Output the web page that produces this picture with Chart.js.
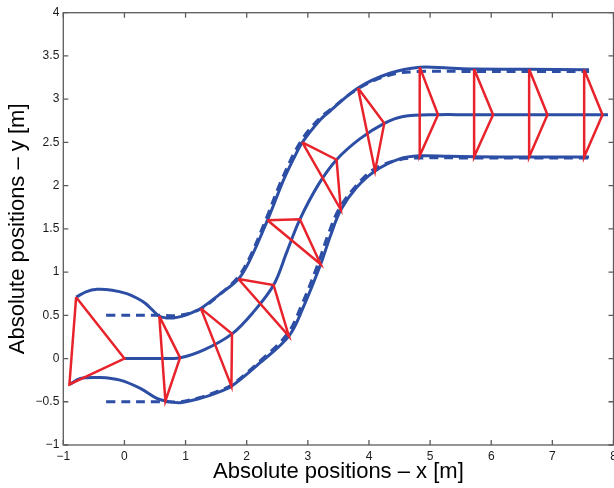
<!DOCTYPE html>
<html>
<head>
<meta charset="utf-8">
<script src="https://cdn.jsdelivr.net/npm/chart.js@4/dist/chart.umd.min.js"></script>
<style>
  html, body { margin: 0; padding: 0; background: #ffffff; }
  canvas { display: block; }
</style>
</head>
<body>
<canvas id="formation" width="614" height="488"></canvas>
<script>
// Axis ticks
const xTickValues = [-1, 0, 1, 2, 3, 4, 5, 6, 7, 8];
const yTickValues = [-1, -0.5, 0, 0.5, 1, 1.5, 2, 2.5, 3, 3.5, 4];

// Robot positions at the sampled instants (upper follower, leader, lower follower)
const upperRobot = [[-0.79, 0.71], [0.57, 0.49], [1.25, 0.58], [1.865, 0.92], [2.34, 1.60], [2.91, 2.50],
                    [3.82, 3.13], [4.83, 3.37], [5.72, 3.35], [6.62, 3.345], [7.52, 3.34]];
const leadRobot  = [[0, 0], [0.91, 0.01], [1.76, 0.285], [2.44, 0.85], [2.87, 1.61], [3.47, 2.30],
                    [4.25, 2.72], [5.13, 2.82], [6.03, 2.82], [6.92, 2.82], [7.82, 2.82]];
const lowerRobot = [[-0.90, -0.30], [0.67, -0.49], [1.75, -0.32], [2.69, 0.26], [3.21, 1.09], [3.54, 1.72],
                    [4.10, 2.17], [4.83, 2.345], [5.72, 2.335], [6.62, 2.33], [7.52, 2.33]];

// Actual trajectories
const leadPath = [[0, 0], [0.5, 0], [0.91, 0.01], [1.3, 0.1], [1.76, 0.285], [2.1, 0.53], [2.44, 0.85],
                  [2.66, 1.24], [2.87, 1.61], [3.18, 2.02], [3.47, 2.30], [3.85, 2.54], [4.25, 2.72],
                  [4.56, 2.80], [5.13, 2.82], [5.6, 2.82], [6.03, 2.82], [6.92, 2.82], [7.82, 2.82], [7.91, 2.82]];
const upperPath = [[-0.79, 0.71], [-0.62, 0.775], [-0.45, 0.80], [-0.2, 0.79], [0.04, 0.75], [0.2, 0.70],
                   [0.34, 0.64], [0.46, 0.56], [0.57, 0.49], [0.68, 0.47], [0.8, 0.47], [0.95, 0.49],
                   [1.13, 0.54], [1.25, 0.58], [1.55, 0.74], [1.865, 0.92], [2.06, 1.15], [2.34, 1.60],
                   [2.6, 2.06], [2.76, 2.30], [2.91, 2.50], [3.2, 2.76], [3.36, 2.86], [3.82, 3.13],
                   [4.34, 3.30], [4.83, 3.37], [5.3, 3.36], [5.72, 3.35], [6.62, 3.345], [7.52, 3.34], [7.6, 3.34]];
const lowerPath = [[-0.90, -0.30], [-0.72, -0.23], [-0.40, -0.22], [-0.07, -0.25], [0.26, -0.345],
                   [0.53, -0.46], [0.67, -0.49], [0.91, -0.51], [1.24, -0.46], [1.5, -0.40], [1.75, -0.32],
                   [2.2, -0.06], [2.69, 0.26], [2.93, 0.60], [3.21, 1.09], [3.37, 1.42], [3.54, 1.72],
                   [3.8, 1.98], [4.10, 2.17], [4.5, 2.31], [4.83, 2.345], [5.3, 2.34], [5.72, 2.335],
                   [6.62, 2.33], [7.52, 2.33], [7.6, 2.33]];

// Reference trajectories of the followers
const upperRef = [[-0.3, 0.5], [0.57, 0.5], [0.9, 0.5], [1.25, 0.575], [1.55, 0.735], [1.85, 0.935],
                  [2.05, 1.17], [2.32, 1.62], [2.58, 2.08], [2.89, 2.52], [3.2, 2.785], [3.36, 2.875],
                  [3.82, 3.12], [4.34, 3.28], [4.83, 3.32], [5.72, 3.32], [6.62, 3.32], [7.6, 3.32]];
const lowerRef = [[-0.3, -0.5], [0.67, -0.5], [0.91, -0.5], [1.24, -0.45], [1.5, -0.385], [1.75, -0.305],
                  [2.2, -0.04], [2.67, 0.29], [2.9, 0.62], [3.17, 1.10], [3.33, 1.43], [3.51, 1.73],
                  [3.78, 1.99], [4.08, 2.19], [4.5, 2.30], [4.83, 2.32], [5.72, 2.32], [6.62, 2.32], [7.6, 2.32]];

const BLUE = '#2d4ea5';
const RED = '#e8232b';
const toXY = pts => pts.map(([x, y]) => ({ x, y }));
const minus = v => String(v).replace('-', '\u2212');

function curve(pts, dashed) {
  return {
    data: toXY(pts),
    showLine: true,
    borderColor: BLUE,
    borderWidth: 3,
    borderDash: dashed ? [9, 6] : [],
    pointRadius: 0,
    fill: false,
    tension: 0.35,
    order: dashed ? 3 : 2
  };
}

// Formation triangles: upper follower -> leader -> lower follower -> upper follower
const triangles = upperRobot.map((u, i) => ({
  data: toXY([u, leadRobot[i], lowerRobot[i], u]),
  showLine: true,
  borderColor: RED,
  borderWidth: 2.5,
  borderJoinStyle: 'miter',
  pointRadius: 0,
  fill: false,
  tension: 0,
  order: 1
}));

// Box around the plot with inward tick marks on all four sides
const framePlugin = {
  id: 'frame',
  afterDatasetsDraw(chart) {
    const { ctx, chartArea: a, scales: { x, y } } = chart;
    const len = 5;
    ctx.save();
    ctx.strokeStyle = '#5c5c5c';
    ctx.lineWidth = 1.3;
    ctx.strokeRect(a.left, a.top, a.right - a.left, a.bottom - a.top);
    ctx.beginPath();
    x.ticks.forEach(t => {
      const p = x.getPixelForValue(t.value);
      ctx.moveTo(p, a.bottom); ctx.lineTo(p, a.bottom - len);
      ctx.moveTo(p, a.top); ctx.lineTo(p, a.top + len);
    });
    y.ticks.forEach(t => {
      const p = y.getPixelForValue(t.value);
      ctx.moveTo(a.left, p); ctx.lineTo(a.left + len, p);
      ctx.moveTo(a.right, p); ctx.lineTo(a.right - len, p);
    });
    ctx.stroke();
    ctx.restore();
  }
};

const tickFont = { family: '"Liberation Sans", Arial, sans-serif', size: 12 };
const titleFont = { family: '"Liberation Sans", Arial, sans-serif', size: 22 };

new Chart(document.getElementById('formation'), {
  type: 'scatter',
  data: {
    datasets: [
      ...triangles,
      curve(leadPath, false),
      curve(upperPath, false),
      curve(lowerPath, false),
      curve(upperRef, true),
      curve(lowerRef, true)
    ]
  },
  options: {
    responsive: false,
    animation: false,
    devicePixelRatio: 1,
    layout: { padding: { top: 12.7, right: 0.5, bottom: 0, left: 0 } },
    plugins: { legend: { display: false }, tooltip: { enabled: false } },
    scales: {
      x: {
        type: 'linear',
        min: -1, max: 8,
        afterBuildTicks: s => { s.ticks = xTickValues.map(v => ({ value: v })); },
        afterFit: s => { s.height = 43; s.paddingLeft = 0; s.paddingRight = 0; },
        grid: { display: false, drawTicks: false },
        border: { display: false },
        ticks: { color: '#1a1a1a', font: tickFont, padding: 4, maxRotation: 0, autoSkip: false, callback: v => minus(v) },
        title: { display: true, text: 'Absolute positions \u2013 x [m]', color: '#000', font: titleFont, padding: { top: 0, bottom: 2.5 } }
      },
      y: {
        type: 'linear',
        min: -1, max: 4,
        afterBuildTicks: s => { s.ticks = yTickValues.map(v => ({ value: v })); },
        afterFit: s => { s.width = 63.3; },
        grid: { display: false, drawTicks: false },
        border: { display: false },
        ticks: { color: '#1a1a1a', font: tickFont, padding: 4, autoSkip: false, callback: v => minus(v) },
        title: { display: true, text: 'Absolute positions \u2013 y [m]', color: '#000', font: titleFont, padding: { top: 4.5, bottom: 0 } }
      }
    }
  },
  plugins: [framePlugin]
});
</script>
</body>
</html>
